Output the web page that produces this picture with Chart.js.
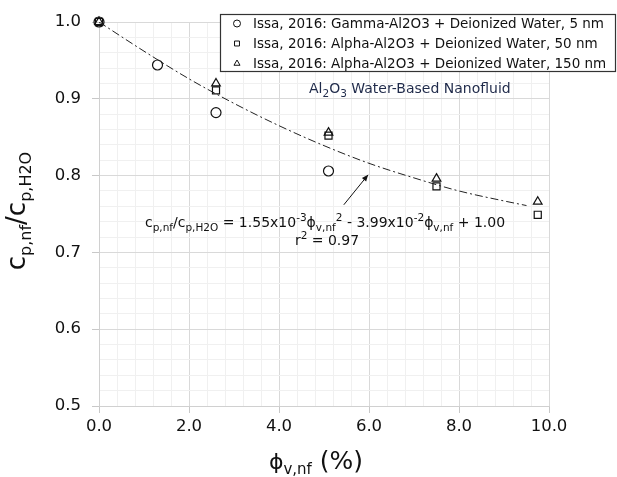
<!DOCTYPE html>
<html>
<head>
<meta charset="utf-8">
<script src="https://cdn.jsdelivr.net/npm/chart.js@4.4.0/dist/chart.umd.min.js"></script>
<style>
  html, body { margin: 0; padding: 0; background: #fff; }
  #wrap { width: 617px; height: 477px; }
</style>
</head>
<body>
<div id="wrap"><canvas id="cpChart" width="617" height="477"></canvas></div>
<script>
// data
const gammaX = [0, 1.3, 2.6, 5.1];
const gammaY = [1.000, 0.944, 0.882, 0.806];

const alpha50X = [0, 2.6, 5.1, 7.5, 9.75];
const alpha50Y = [1.000, 0.911, 0.852, 0.786, 0.749];

const alpha150X = [0, 2.6, 5.1, 7.5, 9.75];
const alpha150Y = [1.000, 0.920, 0.856, 0.796, 0.766];

// trendline
const trendX = [0, 1, 2, 3, 4, 5, 6, 7, 8, 9, 9.5];
const trendY = [1.000, 0.962, 0.926, 0.894, 0.865, 0.839, 0.816, 0.797, 0.780, 0.767, 0.761];

// arrow pointing at the curve: tail, head
const arrowX = [5.44, 5.98];
const arrowY = [0.762, 0.801];

const legendLabels = [
    'Issa, 2016: Gamma-Al2O3 + Deionized Water, 5 nm',
    'Issa, 2016: Alpha-Al2O3 + Deionized Water, 50 nm',
    'Issa, 2016: Alpha-Al2O3 + Deionized Water, 150 nm'
];
const markerStyles = ['circle', 'rect', 'triangle'];

const toPoints = (xs, ys) => xs.map((x, i) => ({x: x, y: ys[i]}));

const FONT = "'DejaVu Sans', Verdana, sans-serif";
const TXT = '#111';

function isMajor(v, step) {
    const r = v / step;
    return Math.abs(r - Math.round(r)) < 1e-6;
}

// text runs with sub / superscripts
function richWidth(ctx, segs) {
    let w = 0;
    segs.forEach(s => {
        ctx.font = s.size + 'px ' + FONT;
        w += ctx.measureText(s.t).width;
    });
    return w;
}
function drawRich(ctx, segs, x, y, align) {
    const w = richWidth(ctx, segs);
    let cx = align === 'center' ? x - w / 2 : x;
    ctx.textAlign = 'left';
    ctx.textBaseline = 'alphabetic';
    segs.forEach(s => {
        ctx.font = s.size + 'px ' + FONT;
        ctx.fillStyle = s.color || TXT;
        ctx.fillText(s.t, cx, y + (s.dy || 0));
        cx += ctx.measureText(s.t).width;
    });
}

const sub = (t, size) => ({t: t, size: size, dy: size * 0.35});
const sup = (t, size) => ({t: t, size: size, dy: -size * 0.55});
const txt = (t, size) => ({t: t, size: size});

const extras = {
    id: 'extras',
    afterDraw(chart) {
        const ctx = chart.ctx;
        const xs = chart.scales.x, ys = chart.scales.y;
        ctx.save();

        // arrow
        const x0 = xs.getPixelForValue(arrowX[0]), y0 = ys.getPixelForValue(arrowY[0]);
        const x1 = xs.getPixelForValue(arrowX[1]), y1 = ys.getPixelForValue(arrowY[1]);
        ctx.strokeStyle = '#111';
        ctx.fillStyle = '#111';
        ctx.lineWidth = 1;
        ctx.beginPath();
        ctx.moveTo(x0, y0);
        ctx.lineTo(x1, y1);
        ctx.stroke();
        const ang = Math.atan2(y1 - y0, x1 - x0);
        ctx.beginPath();
        ctx.moveTo(x1, y1);
        ctx.lineTo(x1 - 7 * Math.cos(ang - 0.4), y1 - 7 * Math.sin(ang - 0.4));
        ctx.lineTo(x1 - 7 * Math.cos(ang + 0.4), y1 - 7 * Math.sin(ang + 0.4));
        ctx.closePath();
        ctx.fill();

        // equation
        drawRich(ctx, [
            txt('c', 14), sub('p,nf', 10.5), txt('/c', 14), sub('p,H2O', 10.5),
            txt(' = 1.55x10', 14), sup('-3', 10.5), txt('\u03d5', 14), sub('v,nf', 10.5), sup('2', 10.5),
            txt(' - 3.99x10', 14), sup('-2', 10.5), txt('\u03d5', 14), sub('v,nf', 10.5),
            txt(' + 1.00', 14)
        ], 325, 227, 'center');
        drawRich(ctx, [txt('r', 14), sup('2', 10.5), txt(' = 0.97', 14)], 327, 245, 'center');

        // inner title
        drawRich(ctx, [
            txt('Al', 14), sub('2', 10.5), txt('O', 14), sub('3', 10.5), txt(' Water-Based Nanofluid', 14)
        ].map(s => Object.assign(s, {color: '#1f2a4a'})), 309, 93, 'left');

        // legend box
        ctx.fillStyle = '#fff';
        ctx.fillRect(220, 14, 395, 57);
        ctx.strokeStyle = '#333';
        ctx.lineWidth = 1.2;
        ctx.strokeRect(220.5, 14.5, 395, 57);
        const rowY = [23.5, 43.5, 63.5];
        legendLabels.forEach((lab, i) => {
            ctx.fillStyle = '#fff';
            ctx.strokeStyle = '#111';
            ctx.lineWidth = 1;
            Chart.helpers.drawPoint(ctx, {
                pointStyle: markerStyles[i], radius: 3.5, borderWidth: 1
            }, 237, rowY[i]);
            ctx.fillStyle = TXT;
            ctx.font = '13.5px ' + FONT;
            ctx.textAlign = 'left';
            ctx.textBaseline = 'middle';
            ctx.fillText(lab, 253, rowY[i] + 0.5);
        });

        // axis titles
        ctx.save();
        ctx.translate(25, 211);
        ctx.rotate(-Math.PI / 2);
        drawRich(ctx, [txt('c', 26), sub('p,nf', 16), txt('/c', 26), sub('p,H2O', 16)], 0, 0, 'center');
        ctx.restore();
        drawRich(ctx, [txt('\u03d5', 22), sub('v,nf', 15), txt(' (%)', 25)], 316, 469, 'center');

        ctx.restore();
    }
};

const ctx = document.getElementById('cpChart').getContext('2d');

const scatterSet = (label, xs, ys, style) => ({
    type: 'scatter',
    label: label,
    data: toPoints(xs, ys),
    pointStyle: style,
    pointRadius: 5,
    pointBorderWidth: 1.2,
    pointBorderColor: '#111',
    pointBackgroundColor: 'rgba(0,0,0,0)',
    showLine: false,
    clip: false
});

const cpChart = new Chart(ctx, {
    data: {
        datasets: [
            {
                type: 'line',
                label: 'trend',
                data: toPoints(trendX, trendY),
                borderColor: '#222',
                borderWidth: 1,
                borderDash: [8, 3, 2, 3],
                pointRadius: 0,
                fill: false,
                cubicInterpolationMode: 'monotone'
            },
            scatterSet(legendLabels[0], gammaX, gammaY, 'circle'),
            scatterSet(legendLabels[1], alpha50X, alpha50Y, 'rect'),
            scatterSet(legendLabels[2], alpha150X, alpha150Y, 'triangle')
        ]
    },
    options: {
        responsive: false,
        animation: false,
        layout: { padding: { left: 0, right: 68, top: 22, bottom: 0 } },
        plugins: {
            legend: { display: false },
            tooltip: { enabled: false }
        },
        scales: {
            x: {
                type: 'linear',
                min: 0,
                max: 10,
                afterFit: s => { s.height = 71; },
                border: { color: '#d0d0d0' },
                grid: {
                    color: c => isMajor(c.tick.value, 2) ? '#d9d9d9' : '#f0f0f0',
                    tickColor: c => isMajor(c.tick.value, 2) ? '#c8c8c8' : 'rgba(0,0,0,0)',
                    tickLength: 7
                },
                ticks: {
                    stepSize: 0.4,
                    autoSkip: false,
                    maxRotation: 0,
                    padding: 4,
                    color: TXT,
                    font: { family: FONT, size: 16.5 },
                    callback: v => isMajor(v, 2) ? v.toFixed(1) : ''
                }
            },
            y: {
                type: 'linear',
                min: 0.5,
                max: 1.0,
                afterFit: s => { s.width = 99; },
                border: { color: '#d0d0d0' },
                grid: {
                    color: c => isMajor(c.tick.value, 0.1) ? '#d9d9d9' : '#f0f0f0',
                    tickColor: c => isMajor(c.tick.value, 0.1) ? '#c8c8c8' : 'rgba(0,0,0,0)',
                    tickLength: 7
                },
                ticks: {
                    stepSize: 0.02,
                    autoSkip: false,
                    padding: 11,
                    color: TXT,
                    font: { family: FONT, size: 16.5 },
                    callback: v => isMajor(v, 0.1) ? v.toFixed(1) : ''
                }
            }
        }
    },
    plugins: [extras]
});
</script>
</body>
</html>
